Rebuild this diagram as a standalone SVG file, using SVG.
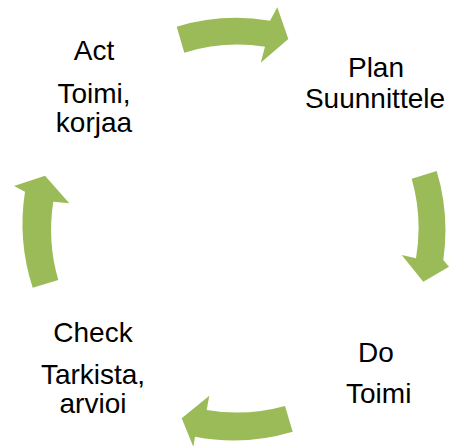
<svg xmlns="http://www.w3.org/2000/svg" width="449" height="448" viewBox="0 0 449 448">
<style>
.arrow{fill:#9BBB59;stroke:none}
.t{font-family:"Liberation Sans",Arial,sans-serif;font-size:28px;fill:#000;text-anchor:middle}
</style>
<rect width="449" height="448" fill="#fff"/>
<g id="connectors">
<path class="arrow" d="M176.7 26.7 A206 206 0 0 1 270 20.7 L277.3 7.3 L288.3 39 L260.7 62.7 L265 46.7 A180 180 0 0 0 184.3 52.7 Z"/>
<path class="arrow" d="M411.7 178.7 L436.7 171 A206 206 0 0 1 443.3 260 L449 266.7 L423.3 281.7 L401.7 255 L416 258.3 A180 180 0 0 0 411.7 178.7 Z"/>
<path class="arrow" d="M292.7 431.7 A206 206 0 0 1 195 436.7 L193.3 446.7 L181.7 418.3 L209.3 395.7 L206.7 410 A180 180 0 0 0 285 406 Z"/>
<path class="arrow" d="M32.7 287.7 A206 206 0 0 1 25 191.7 L14 186 L45 175.7 L69.3 203.3 L53.3 201.7 A180 180 0 0 0 58.3 280 Z"/>
</g>
<g id="plan">
<text class="t" x="376" y="77.3">Plan</text>
<text class="t" x="375" y="108.3">Suunnittele</text>
</g>
<g id="do">
<text class="t" x="376" y="361.7">Do</text>
<text class="t" x="378.7" y="402.7">Toimi</text>
</g>
<g id="check">
<text class="t" x="93" y="341.7">Check</text>
<text class="t" x="93" y="384">Tarkista,</text>
<text class="t" x="93" y="413">arvioi</text>
</g>
<g id="act">
<text class="t" x="94" y="60">Act</text>
<text class="t" x="94" y="102.7">Toimi,</text>
<text class="t" x="94" y="131.7">korjaa</text>
</g>
</svg>
